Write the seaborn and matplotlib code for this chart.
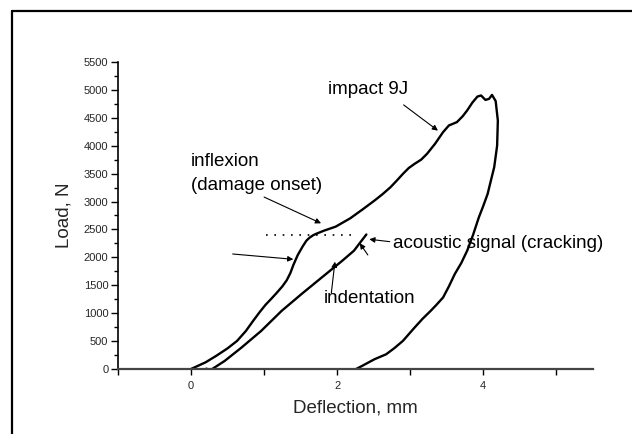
import numpy as np
import pandas as pd
import matplotlib
matplotlib.use("Agg")
import matplotlib.pyplot as plt
from matplotlib.lines import Line2D
import seaborn as sns

# Loading + unloading curve (impact 9J)
impact_x = [0.00, 0.20, 0.35, 0.50, 0.63, 0.75, 0.85, 0.94, 1.02, 1.10, 1.17, 1.25, 1.31,
            1.36, 1.40, 1.46, 1.53, 1.58, 1.62, 1.67, 1.71, 1.82, 1.98,
            2.18, 2.35, 2.51, 2.62, 2.73, 2.82, 2.90, 2.98, 3.06, 3.15, 3.23, 3.34, 3.45,
            3.53, 3.58, 3.64, 3.72, 3.78, 3.85, 3.92, 3.97,
            4.03, 4.08, 4.12, 4.17, 4.20, 4.19, 4.15, 4.10, 4.06, 4.00, 3.94, 3.86, 3.78,
            3.70, 3.61, 3.53, 3.45, 3.36, 3.28, 3.17, 3.06, 2.90, 2.78, 2.67, 2.51, 2.34, 2.26]
impact_y = [0, 120, 240, 370, 503, 680, 862, 1020, 1150, 1260, 1360, 1480, 1590,
            1720, 1860, 2040, 2200, 2300, 2350, 2395, 2420, 2478, 2550,
            2700, 2860, 3016, 3130, 3256, 3380, 3495, 3600, 3675, 3750, 3854, 4034, 4243,
            4363, 4390, 4423, 4530, 4632, 4770, 4880, 4900,
            4820, 4840, 4910, 4800, 4450, 4000, 3615, 3350, 3136, 2920, 2717, 2400, 2119,
            1900, 1700, 1480, 1281, 1150, 1041, 900, 742, 503, 370, 263, 174, 54, 0]

# Indentation curve
indent_x = [0.29, 0.46, 0.69, 0.96, 1.24, 1.51, 1.79, 2.07, 2.23, 2.40]
indent_y = [0, 144, 383, 682, 1041, 1340, 1640, 1939, 2119, 2410]

# Dotted inflexion level
dotted_x = [1.03, 2.19]
dotted_y = [2400, 2400]

x_ticks = [0, 2, 4]
y_ticks = list(range(0, 5501, 500))

sns.set_theme(style="white")
plt.rcParams['font.family'] = ['Liberation Sans', 'DejaVu Sans']

fig = plt.figure(figsize=(6.32, 4.34), dpi=100)
ax = fig.add_axes([0.1867, 0.1498, 0.7513, 0.7074])

df1 = pd.DataFrame({"x": impact_x, "y": impact_y})
df2 = pd.DataFrame({"x": indent_x, "y": indent_y})
sns.lineplot(data=df1, x="x", y="y", sort=False, color="black", lw=1.7, ax=ax, estimator=None)
sns.lineplot(data=df2, x="x", y="y", sort=False, color="black", lw=1.7, ax=ax, estimator=None)
ax.plot(dotted_x, dotted_y, color="black", lw=1.2, linestyle=(0, (1, 4)))
ax.plot([0.2], [0], marker='o', ms=1.8, color='black')

ax.set_xlim(-1, 5.5)
ax.set_ylim(0, 5500)
ax.set_xticks([-1, 0, 1, 2, 3, 4, 5])
ax.set_xticklabels(["", "0", "", "2", "", "4", ""])
ax.set_yticks(y_ticks)
ax.set_yticks(np.arange(250, 5500, 500), minor=True)

for s in ["top", "right"]:
    ax.spines[s].set_visible(False)
axis_col = "#444444"
ax.spines["left"].set_color("black")
ax.spines["left"].set_linewidth(1.2)
ax.spines["bottom"].set_color(axis_col)
ax.spines["bottom"].set_linewidth(1.6)

ax.tick_params(axis="y", which="major", direction="out", length=5, width=1, color="black",
               labelsize=8, pad=2, left=True)
ax.tick_params(axis="y", which="minor", direction="out", length=3, width=1, color="black", left=True)
ax.tick_params(axis="x", which="major", direction="out", length=4, width=1, color="black",
               labelsize=8, pad=5, bottom=True)

ax.set_xlabel("Deflection, mm", fontsize=13.5, labelpad=6)
ax.set_ylabel("Load, N", fontsize=13.5, labelpad=8)

tk = dict(fontsize=13.5, color="black")
ap = dict(arrowstyle="-|>", lw=0.8, color="black", mutation_scale=8, shrinkA=0, shrinkB=0)

ax.annotate("", xy=(3.38, 4270), xytext=(2.91, 4731), arrowprops=ap)
ax.text(1.87, 5010, "impact 9J", va="center", ha="left", **tk)

ax.text(0.0, 3720, "inflexion", va="center", ha="left", **tk)
ax.text(0.0, 3280, "(damage onset)", va="center", ha="left", **tk)
ax.annotate("", xy=(1.78, 2610), xytext=(1.0, 3080), arrowprops=ap)

ax.annotate("", xy=(1.40, 1965), xytext=(0.57, 2060), arrowprops=ap)

ax.text(2.76, 2256, "acoustic signal (cracking)", va="center", ha="left", **tk)
ax.annotate("", xy=(2.44, 2324), xytext=(2.72, 2281), arrowprops=ap)
ax.annotate("", xy=(2.31, 2253), xytext=(2.42, 2043), arrowprops=ap)

ax.text(1.81, 1267, "indentation", va="center", ha="left", **tk)
ax.annotate("", xy=(1.97, 1923), xytext=(1.92, 1357), arrowprops=ap)

# partial frame (top and left)
fig.add_artist(Line2D([11.5/632, 1.0], [1-11/434, 1-11/434], transform=fig.transFigure, color="black", lw=1.6))
fig.add_artist(Line2D([11.5/632, 11.5/632], [0.0, 1-11/434], transform=fig.transFigure, color="black", lw=1.6))

fig.savefig("out.png", dpi=100)
